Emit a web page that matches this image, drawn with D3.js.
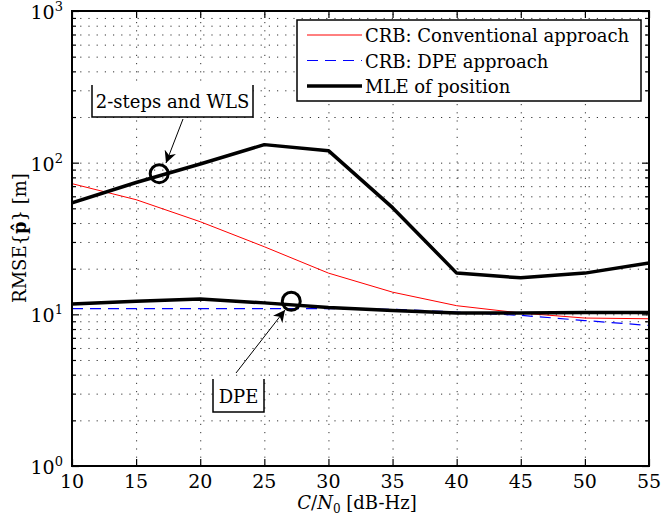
<!DOCTYPE html>
<html>
<head>
<meta charset="utf-8">
<script src="https://cdn.jsdelivr.net/npm/d3@7"></script>
<style>
  html,body{margin:0;padding:0;background:#fff;}
  svg text{font-family:"DejaVu Serif",serif;}
  .grid line{stroke:#333;stroke-width:1;stroke-dasharray:1.2,7;}
  .grid path{display:none;}
  .ax path{display:none;}
  .ax line{stroke:#000;stroke-width:1.2;}
</style>
</head>
<body>
<svg id="chart" width="661" height="519"></svg>
<script>
// ---- data ----
const snr = [10, 15, 20, 25, 30, 35, 40, 45, 50, 55];
const crbConv = [72.7, 57, 40.8, 27.9, 18.7, 14.0, 11.4, 10.2, 9.45, 9.35];
const crbDpe  = [10.9, 10.9, 10.9, 10.9, 10.9, 10.8, 10.35, 9.85, 9.1, 8.45];
const mle2step = [54.4, 74, 98, 131.5, 120, 50.5, 18.7, 17.4, 18.7, 21.8];
const mleDpe   = [11.7, 12.2, 12.6, 11.9, 11.1, 10.6, 10.2, 10.2, 10.3, 10.3];
const seriesNames = ['CRB: Conventional approach', 'CRB: DPE approach', 'MLE of position'];
const xTicks = [10, 15, 20, 25, 30, 35, 40, 45, 50, 55];
const yMajor = [1, 10, 100, 1000];
const annotations = [
  {label: '2-steps and WLS', x: 16.8, y: 84.6},
  {label: 'DPE', x: 27.1, y: 12.2}
];

// ---- layout ----
const L = 72, R = 649, T = 11, B = 466;
const FS = 18;
const svg = d3.select('#chart');
const x = d3.scaleLinear().domain([10, 55]).range([L, R]);
const y = d3.scaleLog().domain([1, 1000]).range([B, T]);

const yMinor = [];
[1, 10, 100].forEach(d => { for (let k = 2; k <= 9; k++) yMinor.push(d * k); });
const yAll = yMajor.concat(yMinor);

// grid
svg.append('g').attr('class', 'grid').attr('transform', `translate(0,${B})`)
  .call(d3.axisBottom(x).tickValues(xTicks.slice(1, -1)).tickSize(-(B - T)).tickFormat(''));
svg.append('g').attr('class', 'grid').attr('transform', `translate(${L},0)`)
  .call(d3.axisLeft(y).tickValues(yAll.filter(v => v > 1 && v < 1000)).tickSize(-(R - L)).tickFormat(''));

// inner ticks on all four sides
svg.append('g').attr('class', 'ax').attr('transform', `translate(0,${B})`)
  .call(d3.axisBottom(x).tickValues(xTicks).tickSize(-7).tickFormat(''));
svg.append('g').attr('class', 'ax').attr('transform', `translate(0,${T})`)
  .call(d3.axisTop(x).tickValues(xTicks).tickSize(-7).tickFormat(''));
[[L, d3.axisLeft], [R, d3.axisRight]].forEach(([px, ax]) => {
  svg.append('g').attr('class', 'ax').attr('transform', `translate(${px},0)`)
    .call(ax(y).tickValues(yMajor).tickSize(-7).tickFormat(''));
  svg.append('g').attr('class', 'ax').attr('transform', `translate(${px},0)`)
    .call(ax(y).tickValues(yMinor).tickSize(-4).tickFormat(''));
});

// tick labels
svg.append('g').selectAll('text').data(xTicks).join('text')
  .attr('x', d => x(d)).attr('y', B + 22).attr('text-anchor', 'middle')
  .attr('font-size', 19).text(d => d);
const yl = svg.append('g').selectAll('text').data(yMajor).join('text')
  .attr('x', 63).attr('y', d => y(d) + 8).attr('text-anchor', 'end').attr('font-size', 19);
yl.append('tspan').text('10');
yl.append('tspan').attr('font-size', 13).attr('dy', -8).text(d => Math.round(Math.log10(d)));

// lines
const line = vals => d3.line().x((d, i) => x(snr[i])).y(d => y(d))(vals);
svg.append('clipPath').attr('id', 'clip').append('rect')
  .attr('x', L).attr('y', T).attr('width', R - L).attr('height', B - T);
const plot = svg.append('g').attr('clip-path', 'url(#clip)');
plot.append('path').attr('d', line(crbConv)).attr('fill', 'none').attr('stroke', '#ff0000').attr('stroke-width', 1);
plot.append('path').attr('d', line(crbDpe)).attr('fill', 'none').attr('stroke', '#0000ff').attr('stroke-width', 1.2).attr('stroke-dasharray', '11,7');
[mle2step, mleDpe].forEach(v => plot.append('path').attr('d', line(v)).attr('fill', 'none')
  .attr('stroke', '#000').attr('stroke-width', 3.5).attr('stroke-linejoin', 'round'));

// frame
svg.append('rect').attr('x', L).attr('y', T).attr('width', R - L).attr('height', B - T)
  .attr('fill', 'none').attr('stroke', '#000').attr('stroke-width', 2);

// annotations
const defs = svg.append('defs');
defs.append('marker').attr('id', 'ah').attr('viewBox', '0 0 10 10').attr('refX', 10).attr('refY', 5)
  .attr('markerWidth', 12).attr('markerHeight', 12).attr('markerUnits', 'userSpaceOnUse').attr('orient', 'auto')
  .append('path').attr('d', 'M0,0 L10,5 L0,10 L3,5 Z').attr('fill', '#000');

const boxes = [
  {x0: 92, x1: 253, y0: 85, y1: 117, from: [183, 119], to: [166, 163]},
  {x0: 213, x1: 264, y0: 379, y1: 412, from: [236, 373], to: [285, 310]}
];
annotations.forEach((a, i) => {
  const b = boxes[i];
  svg.append('circle').attr('cx', x(a.x)).attr('cy', y(a.y)).attr('r', 9)
    .attr('fill', 'none').attr('stroke', '#000').attr('stroke-width', 3);
  svg.append('line').attr('x1', b.from[0]).attr('y1', b.from[1]).attr('x2', b.to[0]).attr('y2', b.to[1])
    .attr('stroke', '#000').attr('stroke-width', 1).attr('marker-end', 'url(#ah)');
  svg.append('rect').attr('x', b.x0).attr('y', b.y0).attr('width', b.x1 - b.x0).attr('height', b.y1 - b.y0).attr('fill', '#fff');
  svg.append('path').attr('d', `M${b.x0},${b.y0} V${b.y1} H${b.x1} V${b.y0}`)
    .attr('fill', 'none').attr('stroke', '#000').attr('stroke-width', 1.5);
  svg.append('text').attr('x', (b.x0 + b.x1) / 2).attr('y', b.y1 - 9).attr('text-anchor', 'middle')
    .attr('font-size', FS).text(a.label);
});

// legend
const lg = svg.append('g').attr('transform', 'translate(297,20)');
lg.append('rect').attr('width', 344).attr('height', 81).attr('fill', '#fff').attr('stroke', '#000').attr('stroke-width', 1.5);
const legStyles = [
  {stroke: '#ff0000', w: 1, dash: null},
  {stroke: '#0000ff', w: 1.2, dash: '11,7'},
  {stroke: '#000', w: 3.5, dash: null}
];
seriesNames.forEach((n, i) => {
  const yy = 15 + i * 25.5;
  lg.append('line').attr('x1', 10).attr('x2', 65).attr('y1', yy).attr('y2', yy)
    .attr('stroke', legStyles[i].stroke).attr('stroke-width', legStyles[i].w)
    .attr('stroke-dasharray', legStyles[i].dash);
  lg.append('text').attr('x', 68).attr('y', yy + 7).attr('font-size', FS).text(n);
});

// axis labels
const xl = svg.append('text').attr('x', 357).attr('y', 509).attr('text-anchor', 'middle').attr('font-size', FS);
xl.append('tspan').attr('font-style', 'italic').text('C');
xl.append('tspan').text('/');
xl.append('tspan').attr('font-style', 'italic').text('N');
xl.append('tspan').attr('font-size', 12).attr('dy', 4).text('0');
xl.append('tspan').attr('dy', -4).text(' [dB-Hz]');

const ylab = svg.append('text').attr('transform', 'translate(26,238) rotate(-90)')
  .attr('text-anchor', 'middle').attr('font-size', FS);
ylab.append('tspan').text('RMSE{');
ylab.append('tspan').attr('font-weight', 'bold').text('p\u0302');
ylab.append('tspan').text('} [m]');
</script>
</body>
</html>
